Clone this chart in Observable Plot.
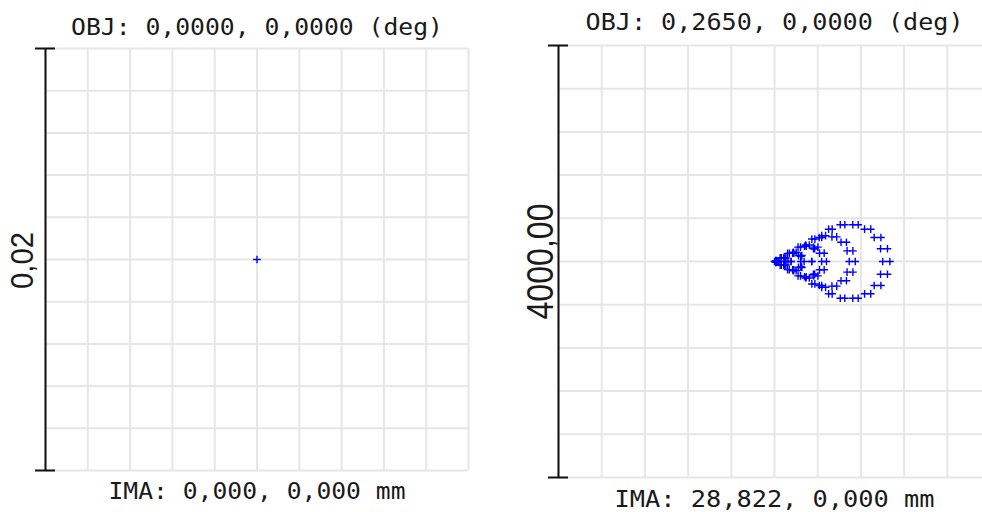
<!DOCTYPE html>
<html><head><meta charset="utf-8">
<script src="https://cdn.jsdelivr.net/npm/d3@7"></script>
<script src="https://cdn.jsdelivr.net/npm/@observablehq/plot@0.6"></script>
<style>
html,body{margin:0;padding:0;background:#fff;overflow:hidden;}
#wrap{position:relative;width:982px;height:512px;overflow:hidden;background:#fff;}
#wrap svg{position:absolute;top:0;}
</style></head><body><div id="wrap"></div>
<script>
// ---- texts ----
const leftTitle = "OBJ: 0,0000, 0,0000 (deg)";
const rightTitle = "OBJ: 0,2650, 0,0000 (deg)";
const leftImage = "IMA: 0,000, 0,000 mm";
const rightImage = "IMA: 28,822, 0,000 mm";
const leftScaleLabel = "0,02";
const rightScaleLabel = "4000,00";

// ---- box sizes (µm, full box) and grid lines ----
const leftBox = 0.02;
const rightBox = 4000;
const leftGrid = [-0.01, -0.008, -0.006, -0.004, -0.002, 0, 0.002, 0.004, 0.006, 0.008, 0.01];
const rightGrid = [-2000, -1600, -1200, -800, -400, 0, 400, 800, 1200, 1600, 2000];

// ---- spot data, field 1 (on axis) ----
const leftSpotX = [0];
const leftSpotY = [0];

// ---- spot data, field 2 (µm), read ring by ring ----
const ring6X = [1068,1002, 1046,982, 985,923, 891,834, 775,725, 651,609, 534,501, 437,415, 372,360, 345,345,
                372,360, 437,415, 534,501, 651,609, 775,725, 891,834, 985,923, 1046,982];
const ring6Y = [0,0, 118,118, 222,222, 299,299, 340,340, 340,340, 299,299, 222,222, 118,118, 0,0,
                -118,-118, -222,-222, -299,-299, -340,-340, -340,-340, -299,-299, -222,-222, -118,-118];
const ring5X = [748,692, 726,672, 666,616, 576,532, 473,437, 374,346, 294,278, 248,242,
                248,242, 294,278, 374,346, 473,437, 576,532, 666,616, 726,672];
const ring5Y = [0,0, 98,98, 178,178, 228,228, 239,239, 208,208, 141,141, 50,50,
                -50,-50, -141,-141, -208,-208, -239,-239, -228,-228, -178,-178, -98,-98];
const ring4X = [481,437, 460,417, 402,364, 322,290, 241,218, 179,168, 153,153,
                179,168, 241,218, 322,290, 402,364, 460,417];
const ring4Y = [0,0, 77,77, 133,133, 153,153, 133,133, 77,77, 0,0,
                -77,-77, -133,-133, -153,-153, -133,-133, -77,-77];
const ring3X = [274,242, 253,222, 200,174, 137,121, 94,88, 94,88, 137,121, 200,174, 253,222];
const ring3Y = [0,0, 55,55, 85,85, 75,75, 29,29, -29,-29, -75,-75, -85,-85, -55,-55];
const ring2X = [125,103, 105,86, 63,52, 38,38, 63,52, 105,86];
const ring2Y = [0,0, 33,33, 33,33, 0,0, -33,-33, -33,-33];
const ring1X = [34,23, 17,11, 17,11];
const ring1Y = [0,0, 8,8, -8,-8];
const centerX = [0];
const centerY = [0];

const rightXs = [ring6X, ring5X, ring4X, ring3X, ring2X, ring1X, centerX];
const rightYs = [ring6Y, ring5Y, ring4Y, ring3Y, ring2Y, ring1Y, centerY];

function toTable(xsList, ysList) {
  const out = [];
  xsList.forEach((xs, k) => xs.forEach((x, i) => out.push({x, y: ysList[k][i]})));
  return out;
}

function panel(o) {
  const h = o.box / 2;
  const spots = toTable(o.xs, o.ys);
  const svg = Plot.plot({
    width: o.width, height: 512,
    marginLeft: o.mL, marginRight: o.mR, marginTop: o.mT, marginBottom: o.mB,
    style: {background: "transparent", overflow: "visible"},
    x: {domain: [-h, h], axis: null},
    y: {domain: [-h, h], axis: null},
    marks: [
      Plot.ruleX(o.grid, {stroke: "#e6e6e6", strokeWidth: 2}),
      Plot.ruleY(o.grid, {stroke: "#e6e6e6", strokeWidth: 2}),
      Plot.ruleX([-h], {stroke: "#111", strokeWidth: 2}),
      Plot.ruleY([-h, h], {x1: -h, x2: -h, insetLeft: -10, insetRight: -10, stroke: "#111", strokeWidth: 2}),
      Plot.dot(spots, {x: "x", y: "y", symbol: "plus", r: 2.6, stroke: "#0000ff", strokeWidth: 1.4}),
      Plot.text([o.title], {frameAnchor: "top", lineAnchor: "bottom", textAnchor: "middle", dy: o.titleDy, fontFamily: "DejaVu Sans Mono", fontSize: 23, fill: "#1a1a1a"}),
      Plot.text([o.image], {frameAnchor: "bottom", lineAnchor: "bottom", textAnchor: "middle", dy: o.imageDy, fontFamily: "DejaVu Sans Mono", fontSize: 23, fill: "#1a1a1a"}),
      Plot.text([o.label], {frameAnchor: "left", lineAnchor: "middle", textAnchor: "middle", rotate: -90, dx: o.labelDx, dy: o.labelDy, fontFamily: "Liberation Sans", fontSize: o.labelSize, fill: "#1a1a1a"})
    ]
  });
  const lens = new Map([[o.title, o.titleLen], [o.image, o.imageLen], [o.label, o.labelLen]]);
  svg.querySelectorAll("text").forEach(t => {
    const len = lens.get(t.textContent);
    if (len != null) {
      t.setAttribute("textLength", len);
      t.setAttribute("lengthAdjust", "spacingAndGlyphs");
    }
  });
  svg.style.left = o.left + "px";
  return svg;
}

const wrap = document.getElementById("wrap");
wrap.appendChild(panel({
  left: 0, width: 491, mL: 45, mR: 23, mT: 48, mB: 42,
  box: leftBox, grid: leftGrid, xs: [leftSpotX], ys: [leftSpotY],
  title: leftTitle, image: leftImage, label: leftScaleLabel,
  titleDy: -14, imageDy: 28, labelDx: -22, labelDy: 1, labelSize: 31,
  titleLen: 372, imageLen: 297, labelLen: 57
}));
wrap.appendChild(panel({
  left: 491, width: 500, mL: 67, mR: 1, mT: 45, mB: 35,
  box: rightBox, grid: rightGrid, xs: rightXs, ys: rightYs,
  title: rightTitle, image: rightImage, label: rightScaleLabel,
  titleDy: -16, imageDy: 29, labelDx: -17, labelDy: 0, labelSize: 37,
  titleLen: 378, imageLen: 320, labelLen: 116
}));
</script></body></html>
